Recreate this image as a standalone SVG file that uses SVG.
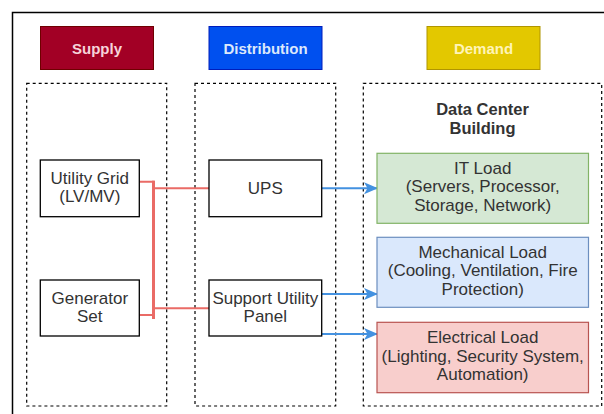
<svg xmlns="http://www.w3.org/2000/svg" width="604" height="414" viewBox="0 0 604 414">
<defs>
<style>
text{font-family:"Liberation Sans",Arial,sans-serif;text-anchor:middle}
.hdr{font-size:15px;font-weight:bold}
.lbl{font-size:17px;fill:#333333}
.box{fill:#ffffff;stroke:#000000;stroke-width:1.3}
.cont{fill:none;stroke:#000000;stroke-width:1.2;stroke-dasharray:3 3}
.red{fill:none;stroke:#ea6b66;stroke-width:2}
.blue{fill:none;stroke:#4391e0;stroke-width:2}
</style>
<marker id="arr" viewBox="0 0 14 13" refX="13" refY="6.5" markerWidth="14" markerHeight="13" markerUnits="userSpaceOnUse" orient="auto">
<path d="M0,0.5 L14,6.5 L0,12.5 L3.5,6.5 Z" fill="#4391e0"/>
</marker>
</defs>
<rect x="12.5" y="12.5" width="700" height="500" fill="#ffffff" stroke="#000000" stroke-width="1.5"/>
<g id="hdr-supply">
<rect x="40.5" y="26.5" width="113" height="43" fill="#a20025" stroke="#6f0000"/>
<text class="hdr" x="97" y="53.5" fill="#f6d3da">Supply</text>
</g>
<g id="hdr-distribution">
<rect x="209" y="26.5" width="113" height="43" fill="#0050ef" stroke="#001dbc"/>
<text class="hdr" x="265.5" y="53.5" fill="#dce8fb">Distribution</text>
</g>
<g id="hdr-demand">
<rect x="427" y="26.5" width="113" height="43" fill="#e3c800" stroke="#b09500"/>
<text class="hdr" x="483.5" y="53.5" fill="#fff4b8">Demand</text>
</g>
<g id="cont-supply"><rect class="cont" x="26.7" y="83.3" width="140" height="322.7"/></g>
<g id="cont-distribution"><rect class="cont" x="195" y="83.3" width="140.7" height="322.7"/></g>
<g id="cont-demand">
<rect class="cont" x="363.3" y="83.3" width="238.4" height="322.7"/>
<text class="lbl" x="482.5" y="115" font-weight="bold" style="font-size:16.5px">Data Center</text>
<text class="lbl" x="482.5" y="133.5" font-weight="bold" style="font-size:16.5px">Building</text>
</g>
<g id="connectors">
<path class="red" d="M139.3,181.7 H153.5 V188.3 H209"/>
<path class="red" d="M139.3,315 H153.5 V308.3 H209"/>
<path class="red" d="M153.5,180.7 V319" style="stroke-width:3"/>
<path class="blue" d="M321.7,188.3 H377" marker-end="url(#arr)"/>
<path class="blue" d="M321.7,294 H377" marker-end="url(#arr)"/>
<path class="blue" d="M321.7,334 H377" marker-end="url(#arr)"/>
</g>
<g id="utility-grid">
<rect class="box" x="40.3" y="160" width="99" height="56.7"/>
<text class="lbl" x="89.8" y="183.8">Utility Grid</text>
<text class="lbl" x="89.8" y="202.3">(LV/MV)</text>
</g>
<g id="generator-set">
<rect class="box" x="40.3" y="280" width="99" height="56"/>
<text class="lbl" x="89.8" y="303.5">Generator</text>
<text class="lbl" x="89.8" y="322">Set</text>
</g>
<g id="ups">
<rect class="box" x="209" y="160" width="112.7" height="56.7"/>
<text class="lbl" x="265.3" y="194">UPS</text>
</g>
<g id="support-panel">
<rect class="box" x="209" y="280" width="112.7" height="56"/>
<text class="lbl" x="265.3" y="303.5">Support Utility</text>
<text class="lbl" x="265.3" y="322">Panel</text>
</g>
<g id="it-load">
<rect x="377" y="153.3" width="211.5" height="70" fill="#d5e8d4" stroke="#82b366" stroke-width="1.2"/>
<text class="lbl" x="482.7" y="173.5">IT Load</text>
<text class="lbl" x="482.7" y="192">(Servers, Processor,</text>
<text class="lbl" x="482.7" y="210.5">Storage, Network)</text>
</g>
<g id="mechanical-load">
<rect x="377" y="237.3" width="211.5" height="70" fill="#dae8fc" stroke="#6c8ebf" stroke-width="1.2"/>
<text class="lbl" x="482.7" y="257.5">Mechanical Load</text>
<text class="lbl" x="482.7" y="276">(Cooling, Ventilation, Fire</text>
<text class="lbl" x="482.7" y="294.5">Protection)</text>
</g>
<g id="electrical-load">
<rect x="377" y="322.3" width="211.5" height="70.4" fill="#f8cecc" stroke="#b85450" stroke-width="1.2"/>
<text class="lbl" x="482.7" y="343">Electrical Load</text>
<text class="lbl" x="482.7" y="361.5">(Lighting, Security System,</text>
<text class="lbl" x="482.7" y="380">Automation)</text>
</g>
</svg>
